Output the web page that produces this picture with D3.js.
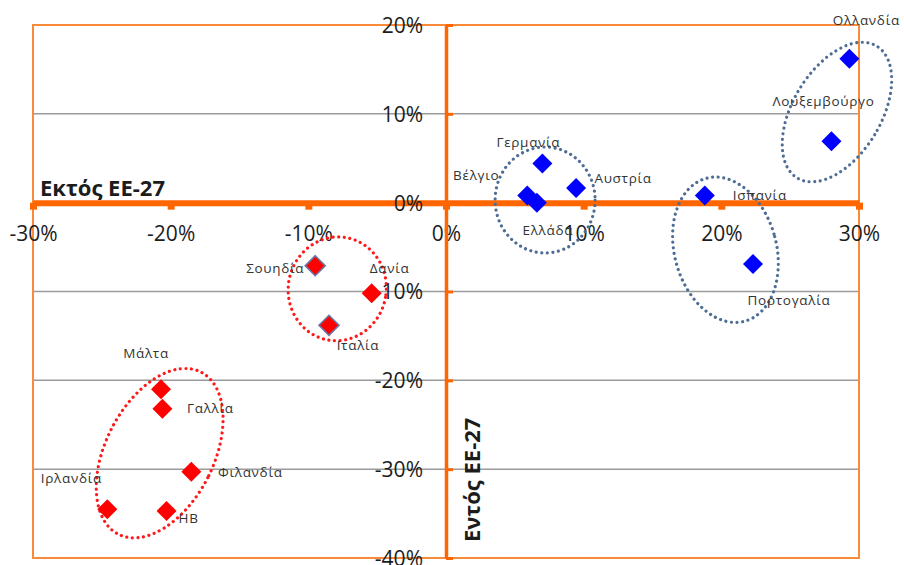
<!DOCTYPE html>
<html>
<head>
<meta charset="utf-8">
<script src="https://cdn.jsdelivr.net/npm/d3@7"></script>
<style>
  body { margin: 0; background: #fff; }
  svg { display: block; }
</style>
</head>
<body>
<svg id="chart" width="904" height="565"></svg>
<script>
// Axis ticks (percent)
const xTicks = [-30, -20, -10, 0, 10, 20, 30];
const yTicks = [20, 10, 0, -10, -20, -30, -40];

// Countries with positive balance (blue)
const blueNames = ["Ολλανδία", "Λουξεμβούργο", "Γερμανία", "Βέλγιο", "Ελλάδα", "Αυστρία", "Ισπανία", "Πορτογαλία"];
const blueX = [29.3, 28.0, 7.0, 5.9, 6.6, 9.45, 18.8, 22.3];
const blueY = [16.2, 6.9, 4.4, 0.8, 0.0, 1.65, 0.8, -6.9];

// Countries with negative balance (red)
const redNames = ["Σουηδία", "Δανία", "Ιταλία", "Μάλτα", "Γαλλία", "Φιλανδία", "Ιρλανδία", "ΗΒ"];
const redX = [-9.5, -5.4, -8.5, -20.7, -20.6, -18.5, -24.6, -20.3];
const redY = [-7.1, -10.2, -13.8, -21.0, -23.2, -30.3, -34.5, -34.7];

// Cluster outlines: centre in data units
const clusterX = [-7.9, -20.8, 7.2, 20.3, 28.4];
const clusterY = [-9.7, -28.2, 0.3, -5.3, 10.2];
const clusterColor = ["red", "red", "blue", "blue", "blue"];

// Drawing settings (pixels)
const clusterShape = [
  { rx: 49, ry: 52, rot: 10 },
  { rx: 54, ry: 91, rot: 27 },
  { rx: 50, ry: 53, rot: 0 },
  { rx: 51, ry: 74, rot: -15 },
  { rx: 44, ry: 77, rot: 31 }
];
const labelNudge = {
  "Ολλανδία": [17, -38], "Λουξεμβούργο": [-8, -40], "Γερμανία": [-14, -21],
  "Βέλγιο": [-51, -20], "Ελλάδα": [11, 28], "Αυστρία": [47, -10],
  "Ισπανία": [55, 0], "Πορτογαλία": [36, 36],
  "Σουηδία": [-40, 3], "Δανία": [18, -25], "Ιταλία": [29, 20],
  "Μάλτα": [-15, -36], "Γαλλία": [48, 0], "Φιλανδία": [59, 0],
  "Ιρλανδία": [-36, -31], "ΗΒ": [22, 7]
};
const outlinedRed = new Set(["Σουηδία", "Ιταλία"]);

const svg = d3.select("#chart");
svg.append("rect").attr("width", 904).attr("height", 565).attr("fill", "#fff");

const x = d3.scaleLinear().domain([-30, 30]).range([33, 859]);
const y = d3.scaleLinear().domain([-40, 20]).range([558, 25]);

const ORANGE = "#ff6600";
const FRAME = "#f98a3a";
const FONT = "'Open Sans', 'DejaVu Sans', sans-serif";

// gridlines
svg.append("g").selectAll("line")
  .data(yTicks.filter(t => t !== 0 && t !== 20 && t !== -40))
  .join("line")
  .attr("x1", x(-30)).attr("x2", x(30))
  .attr("y1", d => y(d)).attr("y2", d => y(d))
  .attr("stroke", "#9a9a9a").attr("stroke-width", 1.5);

// plot frame
svg.append("rect")
  .attr("x", x(-30)).attr("y", y(20))
  .attr("width", x(30) - x(-30)).attr("height", y(-40) - y(20))
  .attr("fill", "none").attr("stroke", FRAME).attr("stroke-width", 2);

// horizontal axis through zero
const xAxis = d3.axisBottom(x).tickValues(xTicks).tickSize(0).tickFormat(d => d + "%");
const gx = svg.append("g").attr("transform", `translate(0,${y(0)})`).call(xAxis);
gx.select(".domain").attr("stroke", ORANGE).attr("stroke-width", 6);
gx.selectAll(".tick text")
  .attr("y", 31).attr("dy", "0.35em")
  .attr("font-family", FONT).attr("font-size", 21).attr("fill", "#1c1c1c");
gx.selectAll(".tick").append("rect")
  .attr("x", -3.5).attr("y", 0).attr("width", 7).attr("height", 7).attr("fill", ORANGE);

// vertical axis through zero
const yAxis = d3.axisRight(y).tickValues(yTicks).tickSize(0).tickFormat(d => d + "%");
const gy = svg.append("g").attr("transform", `translate(${x(0)},0)`).call(yAxis);
gy.select(".domain").attr("stroke", ORANGE).attr("stroke-width", 3.5);
gy.selectAll(".tick text")
  .attr("x", -23).attr("text-anchor", "end").attr("dy", "0.35em")
  .attr("font-family", FONT).attr("font-size", 21).attr("fill", "#1c1c1c");
gy.selectAll(".tick").append("line")
  .attr("x1", 0).attr("x2", 7).attr("stroke", ORANGE).attr("stroke-width", 3);

// axis titles
svg.append("text")
  .attr("x", x(-30) + 7).attr("y", y(0) - 7)
  .attr("font-family", FONT).attr("font-weight", 700).attr("font-size", 22)
  .attr("fill", "#1c1c1c").text("Εκτός ΕΕ-27");
svg.append("text")
  .attr("transform", `translate(${x(0) + 34},${y(-31.2)}) rotate(-90)`)
  .attr("text-anchor", "middle")
  .attr("font-family", FONT).attr("font-weight", 700).attr("font-size", 22)
  .attr("fill", "#1c1c1c").text("Εντός ΕΕ-27");

// cluster outlines (dotted)
svg.append("g").selectAll("ellipse")
  .data(clusterX.map((cx, i) => ({ cx, cy: clusterY[i], c: clusterColor[i], s: clusterShape[i] })))
  .join("ellipse")
  .attr("transform", d => `translate(${x(d.cx)},${y(d.cy)}) rotate(${d.s.rot})`)
  .attr("rx", d => d.s.rx).attr("ry", d => d.s.ry)
  .attr("fill", "none")
  .attr("stroke", d => d.c === "red" ? "#ff1a1a" : "#4e6d94")
  .attr("stroke-width", 3.2)
  .attr("stroke-linecap", "round")
  .attr("stroke-dasharray", "0.01 5.6");

// square diamond marker
const diamond = {
  draw(ctx, size) {
    const r = Math.sqrt(size / 2);
    ctx.moveTo(0, -r); ctx.lineTo(r, 0); ctx.lineTo(0, r); ctx.lineTo(-r, 0); ctx.closePath();
  }
};
const sym = d3.symbol().type(diamond).size(200);

const points = [
  ...blueNames.map((n, i) => ({ n, vx: blueX[i], vy: blueY[i], fill: "#0000ff" })),
  ...redNames.map((n, i) => ({ n, vx: redX[i], vy: redY[i], fill: "#ff0000" }))
];

svg.append("g").selectAll("path")
  .data(points)
  .join("path")
  .attr("d", sym)
  .attr("transform", d => `translate(${x(d.vx)},${y(d.vy)})`)
  .attr("fill", d => d.fill)
  .attr("stroke", d => outlinedRed.has(d.n) ? "#6a78a6" : "none")
  .attr("stroke-width", 1.6);

// data labels
svg.append("g").selectAll("text")
  .data(points)
  .join("text")
  .attr("x", d => x(d.vx) + labelNudge[d.n][0])
  .attr("y", d => y(d.vy) + labelNudge[d.n][1])
  .attr("text-anchor", "middle").attr("dy", "0.35em")
  .attr("font-family", FONT).attr("font-size", 13.5)
  .attr("letter-spacing", 0.7)
  .attr("fill", "#333333")
  .text(d => d.n);
</script>
</body>
</html>
